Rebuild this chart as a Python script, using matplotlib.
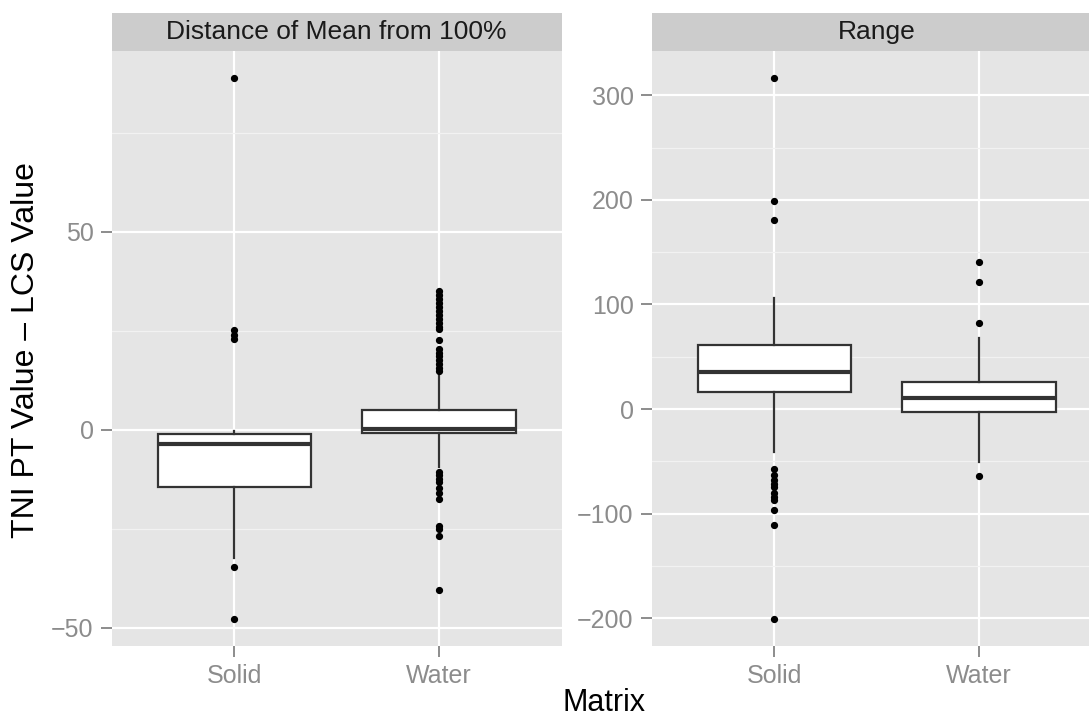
import matplotlib
matplotlib.use("Agg")
import matplotlib.pyplot as plt
from matplotlib.patches import Rectangle

plt.rcParams['font.family'] = ['Liberation Sans', 'DejaVu Sans']

# categories on the x axis
matrices = ["Solid", "Water"]

# Panel 1: Distance of Mean from 100%
dist_whislo = [-32.4, -9.4]
dist_q1 = [-14.4, -0.9]
dist_med = [-3.6, 0.3]
dist_q3 = [-1.2, 5.0]
dist_whishi = [-0.3, 13.8]
dist_fliers_solid = [88.9, 25.2, 24.0, 22.8, -34.7, -47.8]
dist_fliers_water = [35.0, 34.0, 33.0, 32.0, 31.0, 30.0, 29.0, 28.0, 27.0, 26.0,
                     25.5, 22.7, 20.5, 19.5, 18.5, 17.5, 16.5, 15.5, 14.8,
                     -10.6, -11.5, -12.5, -13.1, -14.8, -16.0, -17.4,
                     -24.2, -25.0, -26.8, -40.6]

# Panel 2: Range
rng_whislo = [-40.8, -50.4]
rng_q1 = [16.7, -3.2]
rng_med = [35.9, 10.9]
rng_q3 = [60.8, 25.6]
rng_whishi = [106.0, 68.4]
rng_fliers_solid = [316.8, 198.8, 180.6, -57.0, -63.0, -68.0, -72.0, -75.0,
                    -80.0, -84.0, -87.0, -97.0, -111.0, -200.7]
rng_fliers_water = [140.6, 121.2, 82.2, -63.9]

dist_major = [-50, 0, 50]
dist_minor = [-25, 25, 75]
rng_major = [-200, -100, 0, 100, 200, 300]
rng_minor = [-150, -50, 50, 150, 250]

W, H = 1089, 719
fig = plt.figure(figsize=(W / 100, H / 100), dpi=100)

panel_h = (646 - 50.7) / H
panel_w = 450 / W
ax1 = fig.add_axes([111.7 / W, 1 - 646 / H, panel_w, panel_h])
ax2 = fig.add_axes([651.7 / W, 1 - 646 / H, panel_w, panel_h])


def make_stats(whislo, q1, med, q3, whishi, fliers):
    stats = []
    for i in range(len(matrices)):
        stats.append(dict(whislo=whislo[i], q1=q1[i], med=med[i], q3=q3[i],
                          whishi=whishi[i], fliers=fliers[i], label=matrices[i]))
    return stats


def draw_panel(ax, stats, major, minor, title):
    ax.set_facecolor("#E5E5E5")
    for s in ax.spines.values():
        s.set_visible(False)
    ax.bxp(stats, positions=[1, 2], widths=0.75, patch_artist=True,
           showcaps=False, zorder=3,
           boxprops=dict(facecolor="white", edgecolor="#333333", linewidth=1.6),
           medianprops=dict(color="#333333", linewidth=3.0),
           whiskerprops=dict(color="#333333", linewidth=1.6),
           flierprops=dict(marker="o", markerfacecolor="black",
                           markeredgecolor="black", markersize=4.2))
    allv = []
    for s in stats:
        allv += [s["whislo"], s["whishi"]] + list(s["fliers"])
    lo, hi = min(allv), max(allv)
    pad = (hi - lo) * 0.05
    ax.set_ylim(lo - pad, hi + pad)
    ax.set_xlim(0.4, 2.6)
    ax.set_yticks(major)
    ax.set_yticks(minor, minor=True)
    ax.set_xticks([1, 2])
    ax.set_xticklabels(matrices)
    ax.grid(True, which="major", color="white", linewidth=1.6, zorder=0)
    ax.grid(True, which="minor", axis="y", color="#F2F2F2", linewidth=0.9, zorder=0)
    ax.set_axisbelow(True)
    ax.tick_params(axis="both", which="major", length=8, width=1.4,
                   color="#8C8C8C", labelcolor="#8C8C8C", labelsize=18, pad=5)
    ax.tick_params(axis="both", which="minor", length=0)
    # facet strip
    strip_h = 38 / 595.3
    ax.add_patch(Rectangle((0, 1), 1, strip_h, transform=ax.transAxes,
                           facecolor="#CCCCCC", edgecolor="none", clip_on=False))
    ax.text(0.5, 1 + strip_h / 2, title, transform=ax.transAxes,
            ha="center", va="center", fontsize=19, color="#1A1A1A")


draw_panel(ax1, make_stats(dist_whislo, dist_q1, dist_med, dist_q3, dist_whishi,
                           [dist_fliers_solid, dist_fliers_water]),
           dist_major, dist_minor, "Distance of Mean from 100%")
draw_panel(ax2, make_stats(rng_whislo, rng_q1, rng_med, rng_q3, rng_whishi,
                           [rng_fliers_solid, rng_fliers_water]),
           rng_major, rng_minor, "Range")

fig.text(26 / W, 1 - 350 / H, "TNI PT Value \u2013 LCS Value", rotation=90,
         ha="center", va="center", fontsize=23, color="black")
fig.text(604 / W, 8 / H, "Matrix", ha="center", va="baseline",
         fontsize=22, color="black")

fig.savefig("out.png", dpi=100)
